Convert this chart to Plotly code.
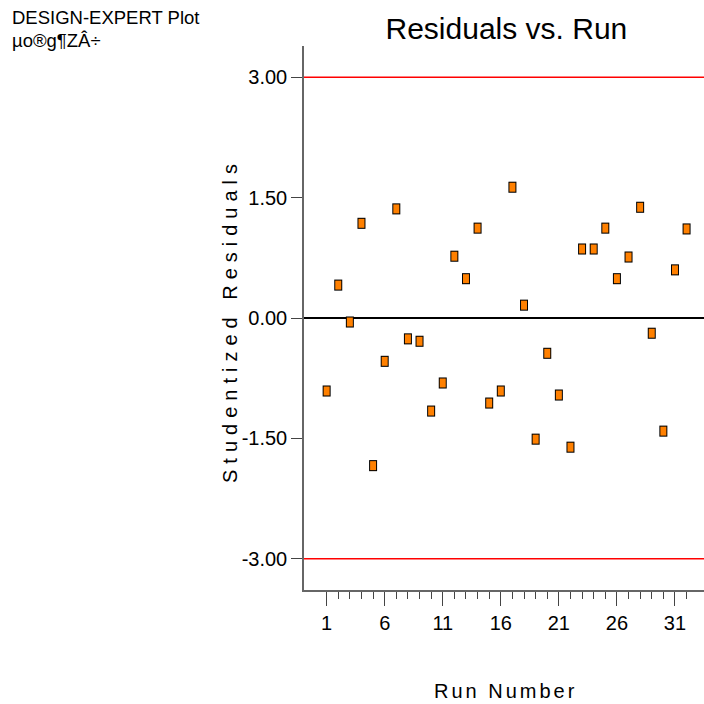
import plotly.graph_objects as go

# Studentized residuals in run order
runs = list(range(1, 33))
residuals = [-0.91, 0.41, -0.05, 1.18, -1.84, -0.54, 1.36, -0.26, -0.29, -1.16,
             -0.81, 0.77, 0.49, 1.12, -1.06, -0.91, 1.63, 0.16, -1.51, -0.44,
             -0.96, -1.61, 0.86, 0.86, 1.12, 0.49, 0.76, 1.38, -0.19, -1.41,
             0.60, 1.11]

# Axis ticks
y_ticks = [3.0, 1.5, 0.0, -1.5, -3.0]
y_tick_text = ["3.00", "1.50", "0.00", "-1.50", "-3.00"]
x_major = [1, 6, 11, 16, 21, 26, 31]
x_minor = list(range(1, 33))

# Outlier limits and centre line
limits = [3.0, -3.0]
centre = 0.0

FONT = "Liberation Sans, Arial, sans-serif"
ORANGE = "#FF8000"

fig = go.Figure()

# rectangular markers: black outline bar behind an orange bar
fig.add_trace(go.Scatter(
    x=runs, y=residuals, mode="markers", hoverinfo="skip", showlegend=False,
    marker=dict(symbol="line-ns", size=7.9, line=dict(width=8, color="black")),
))
fig.add_trace(go.Scatter(
    x=runs, y=residuals, mode="markers", showlegend=False,
    marker=dict(symbol="line-ns", size=6.4, line=dict(width=6, color=ORANGE)),
))

for lim in limits:
    fig.add_shape(type="line", xref="paper", x0=0, x1=1, yref="y", y0=lim, y1=lim,
                  line=dict(color="red", width=1.5), layer="below")
fig.add_shape(type="line", xref="paper", x0=0, x1=1, yref="y", y0=centre, y1=centre,
              line=dict(color="black", width=2), layer="below")

fig.update_layout(
    width=704, height=704, autosize=False,
    margin=dict(l=304, r=0, t=46, b=114),
    paper_bgcolor="white", plot_bgcolor="white",
    font=dict(family=FONT, color="black"),
    title=dict(text="Residuals vs. Run", font=dict(size=30, family=FONT, color="black"),
               xref="paper", x=0.506, xanchor="center",
               yref="container", y=1 - 28 / 704, yanchor="middle"),
    xaxis=dict(range=[-0.95, 33.5], tickmode="array", tickvals=x_major,
               ticktext=[str(v) for v in x_major],
               ticks="outside", ticklen=14, tickwidth=1, tickcolor="#444",
               minor=dict(tickmode="array", tickvals=x_minor, ticks="outside",
                          ticklen=7, tickwidth=1, tickcolor="#444"),
               showline=True, linecolor="#666", linewidth=1.5,
               showgrid=False, zeroline=False,
               tickfont=dict(size=20, family=FONT, color="black")),
    yaxis=dict(range=[-3.39, 3.39], tickmode="array", tickvals=y_ticks,
               ticktext=y_tick_text,
               ticks="outside", ticklen=11, tickwidth=1, tickcolor="#444",
               showline=True, linecolor="#666", linewidth=1.5,
               showgrid=False, zeroline=False,
               tickfont=dict(size=20, family=FONT, color="black")),
    annotations=[
        dict(text="Studentized Residuals", xref="paper", yref="paper",
             x=-0.185, y=0.4945, xanchor="center", yanchor="middle",
             textangle=-90, showarrow=False,
             font=dict(size=20, family=FONT, color="black")),
        dict(text="Run Number", xref="paper", yref="paper",
             x=0.505, y=-0.1857, xanchor="center", yanchor="middle",
             showarrow=False, font=dict(size=20, family=FONT, color="black")),
        dict(text="DESIGN-EXPERT Plot", xref="paper", yref="paper",
             x=(10 - 304) / 400, y=(590 - 18) / 544, xanchor="left", yanchor="middle",
             showarrow=False, font=dict(size=18.5, family=FONT, color="black")),
        dict(text="µo®g¶ZÂ÷", xref="paper", yref="paper",
             x=(10 - 304) / 400, y=(590 - 41) / 544, xanchor="left", yanchor="middle",
             showarrow=False, font=dict(size=18.5, family=FONT, color="black")),
    ],
)

spacing_js = """
var gd = document.getElementById('{plot_id}');
gd.querySelectorAll('text').forEach(function (t) {
  var s = t.textContent;
  if (s === 'Studentized Residuals') { t.style.letterSpacing = '6px'; }
  if (s === 'Run Number') { t.style.letterSpacing = '3px'; }
});
"""

fig.write_html("out.html", config={"displayModeBar": False}, post_script=spacing_js)
